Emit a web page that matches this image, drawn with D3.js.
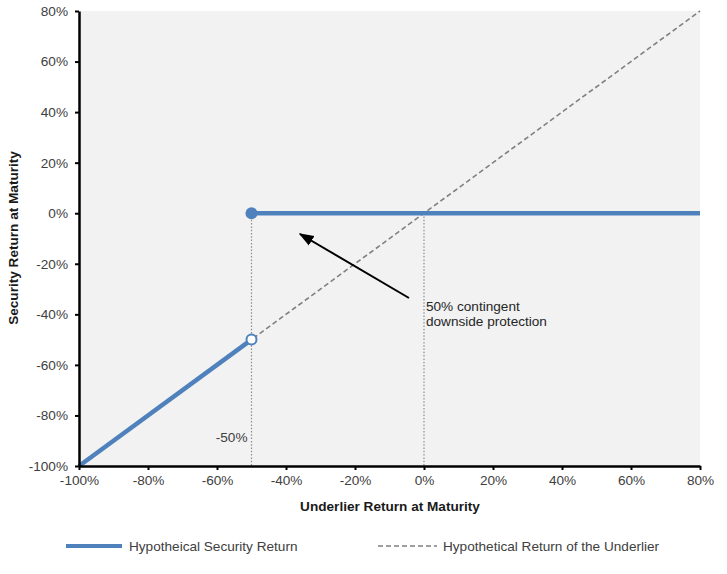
<!DOCTYPE html>
<html><head><meta charset="utf-8">
<script src="https://cdn.jsdelivr.net/npm/d3@7"></script>
<style>
body{margin:0;background:#fff;}
svg{display:block;font-family:"Liberation Sans",Arial,sans-serif;}
</style></head>
<body>
<svg id="c" width="727" height="574"></svg>
<script>
const xTicks = [-100,-80,-60,-40,-20,0,20,40,60,80];
const yTicks = [-100,-80,-60,-40,-20,0,20,40,60,80];
const underlierX = [-100, 80];
const underlierY = [-100, 80];
const lowerX = [-100, -50];
const lowerY = [-100, -50];
const upperX = [-50, 80];
const upperY = [0, 0];
const barrierX = -50;
const breakevenX = 0;
const annotationLines = ["50% contingent","downside protection"];

const FS = 13.6;
const svg = d3.select("#c");
const x = d3.scaleLinear().domain([-100,80]).range([79,700]);
const y = d3.scaleLinear().domain([-100,80]).range([466,11]);
const blue = "#4f81bd";

svg.append("rect").attr("x",x(-100)).attr("y",y(80)).attr("width",x(80)-x(-100)).attr("height",y(-100)-y(80)).attr("fill","#f2f2f2");

// dotted guides
[barrierX, breakevenX].forEach(v=>{
  svg.append("line").attr("x1",x(v)).attr("x2",x(v)).attr("y1",y(0)).attr("y2",y(-100))
    .attr("stroke","#8c8c8c").attr("stroke-width",1.2).attr("stroke-dasharray","1.5,1.8");
});

// underlier dashed
svg.append("line").attr("x1",x(underlierX[0])).attr("y1",y(underlierY[0])).attr("x2",x(underlierX[1])).attr("y2",y(underlierY[1]))
  .attr("stroke","#808080").attr("stroke-width",1.6).attr("stroke-dasharray","5,3");

const line = d3.line().x(d=>x(d[0])).y(d=>y(d[1]));
svg.append("path").attr("d",line(lowerX.map((v,i)=>[v,lowerY[i]]))).attr("fill","none").attr("stroke",blue).attr("stroke-width",4.5);
svg.append("path").attr("d",line(upperX.map((v,i)=>[v,upperY[i]]))).attr("fill","none").attr("stroke",blue).attr("stroke-width",4.5);
svg.append("circle").attr("cx",x(lowerX[1])).attr("cy",y(lowerY[1])).attr("r",5).attr("fill","#fff").attr("stroke",blue).attr("stroke-width",2);
svg.append("circle").attr("cx",x(upperX[0])).attr("cy",y(upperY[0])).attr("r",6).attr("fill",blue);

// axes
const ya = svg.append("g").attr("transform",`translate(${x(-100)},0)`).call(d3.axisLeft(y).tickValues(yTicks).tickFormat(d=>d+"%").tickSize(4).tickSizeOuter(0));
const xa = svg.append("g").attr("transform",`translate(0,${y(-100)})`).call(d3.axisBottom(x).tickValues(xTicks).tickFormat(d=>d+"%").tickSize(4).tickSizeOuter(0));
[ya,xa].forEach(g=>{
  g.select(".domain").attr("stroke","#000").attr("stroke-width",2.5);
  g.selectAll(".tick line").attr("stroke","#000").attr("stroke-width",2);
  g.selectAll("text").attr("font-size",FS).attr("fill","#404040").attr("font-family","Liberation Sans, Arial, sans-serif");
});
ya.selectAll("text").attr("x",-11);
xa.selectAll("text").attr("y",9);

svg.append("text").attr("x",390).attr("y",511).attr("text-anchor","middle").attr("font-size",FS).attr("font-weight","bold").attr("fill","#1a1a1a").text("Underlier Return at Maturity");
svg.append("text").attr("transform",`translate(18,238) rotate(-90)`).attr("text-anchor","middle").attr("font-size",FS).attr("font-weight","bold").attr("fill","#1a1a1a").text("Security Return at Maturity");

// annotations
svg.append("text").attr("x",x(barrierX)-4).attr("y",442).attr("text-anchor","end").attr("font-size",FS).attr("fill","#404040").text("-50%");
const defs = svg.append("defs");
defs.append("marker").attr("id","ah").attr("viewBox","0 0 10 10").attr("refX",9).attr("refY",5).attr("markerWidth",7.5).attr("markerHeight",7.5).attr("orient","auto").attr("markerUnits","strokeWidth")
  .append("path").attr("d","M0,1.3L10,5L0,8.7z").attr("fill","#000");
svg.append("line").attr("x1",409).attr("y1",298).attr("x2",300).attr("y2",234).attr("stroke","#000").attr("stroke-width",2).attr("marker-end","url(#ah)");
annotationLines.forEach((t,i)=>{
  svg.append("text").attr("x",426).attr("y",311+i*15).attr("font-size",FS).attr("fill","#262626").text(t);
});

// legend
svg.append("line").attr("x1",66).attr("x2",122).attr("y1",546).attr("y2",546).attr("stroke",blue).attr("stroke-width",4);
svg.append("text").attr("x",129).attr("y",551).attr("font-size",FS).attr("fill","#404040").text("Hypotheical Security Return");
svg.append("line").attr("x1",378).attr("x2",437).attr("y1",546).attr("y2",546).attr("stroke","#808080").attr("stroke-width",1.5).attr("stroke-dasharray","5,3");
svg.append("text").attr("x",443).attr("y",551).attr("font-size",FS).attr("fill","#404040").text("Hypothetical Return of the Underlier");
</script>
</body></html>
